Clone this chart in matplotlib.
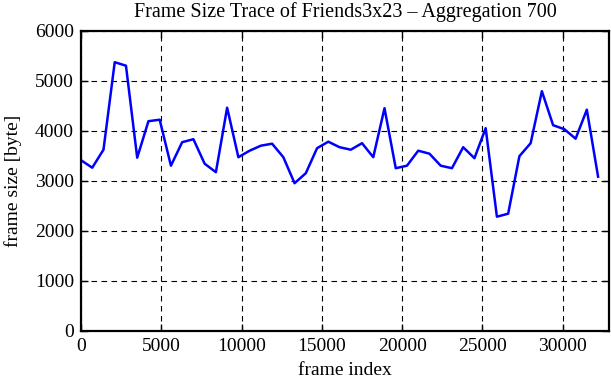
import matplotlib
matplotlib.use('Agg')
import matplotlib.pyplot as plt
import numpy as np

# aggregated frame sizes (one value per 700 frames)
agg = 700
sizes = [3410, 3260, 3620, 5370, 5300, 3460, 4190, 4220, 3300, 3770,
         3830, 3340, 3170, 4460, 3470, 3600, 3700, 3740, 3470, 2950,
         3150, 3650, 3780, 3670, 3620, 3750, 3470, 4450, 3250, 3300,
         3600, 3540, 3300, 3250, 3670, 3450, 4050, 2280, 2340, 3490,
         3750, 4790, 4110, 4030, 3840, 4420, 3080]
frames = np.arange(len(sizes)) * agg

xticks = [0, 5000, 10000, 15000, 20000, 25000, 30000]
yticks = [0, 1000, 2000, 3000, 4000, 5000, 6000]

plt.rcParams['font.family'] = ['Liberation Serif', 'DejaVu Serif']
plt.rcParams['font.size'] = 14

fig = plt.figure(figsize=(6.11, 3.80), dpi=100)
ax = fig.add_axes([81/611, 1 - 330.7/380, (609-81)/611, 300/380])

ax.plot(frames, sizes, '-', color=(0, 0, 1), lw=1.8)

ax.set_xlim(0, 32880)
ax.set_ylim(0, 6000)
ax.set_xticks(xticks)
ax.set_yticks(yticks)
ax.grid(True, color='black', linestyle=(0, (5, 4)), lw=0.8)
ax.tick_params(direction='in', length=5, width=1, top=True, right=True,
               labelsize=14, pad=5)
for s in ax.spines.values():
    s.set_linewidth(1.6)

ax.set_title('Frame Size Trace of Friends3x23 \u2013 Aggregation 700',
             fontsize=14.5, pad=10)
ax.set_xlabel('frame index', fontsize=14, labelpad=5)
ax.set_ylabel('frame size [byte]', fontsize=14, labelpad=9)

fig.savefig('out.png', dpi=100)
